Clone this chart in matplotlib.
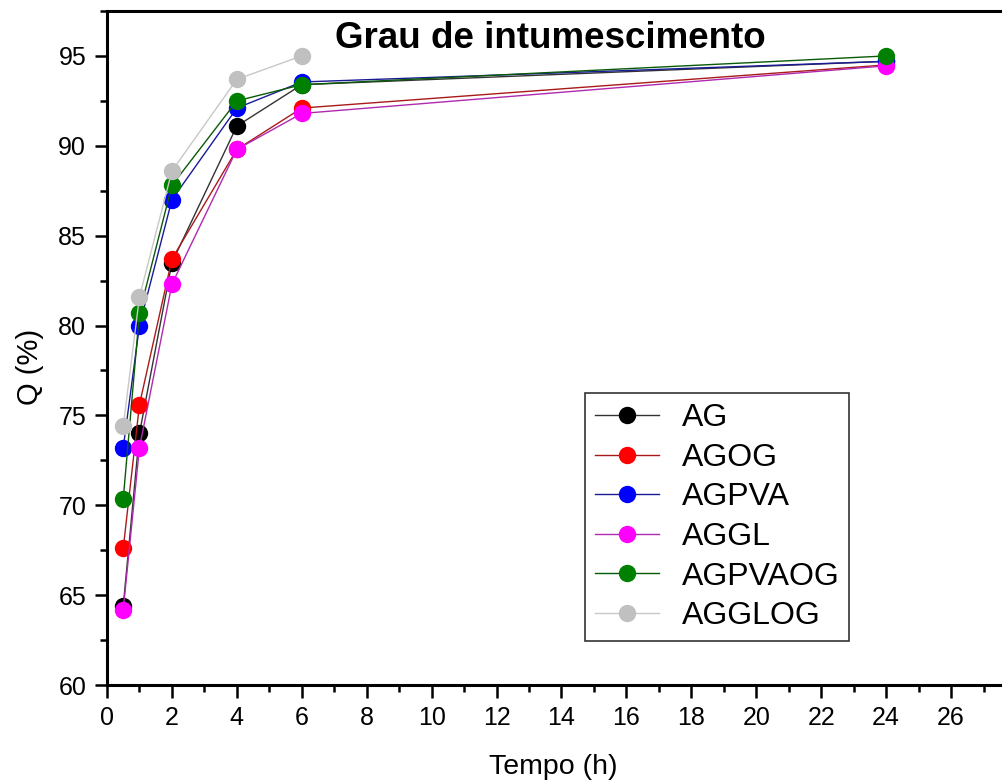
import matplotlib
matplotlib.use("Agg")
import matplotlib.pyplot as plt
from matplotlib.ticker import MultipleLocator, FixedLocator

plt.rcParams['font.family'] = ['Liberation Sans', 'DejaVu Sans']

tempo = [0.5, 1, 2, 4, 6, 24]
tempo_agglog = [0.5, 1, 2, 4, 6]

AG = [64.4, 74.0, 83.5, 91.1, 93.4, 94.7]
AGOG = [67.6, 75.6, 83.7, 89.8, 92.1, 94.5]
AGPVA = [73.2, 80.0, 87.0, 92.1, 93.55, 94.7]
AGGL = [64.2, 73.2, 82.3, 89.8, 91.8, 94.45]
AGPVAOG = [70.35, 80.7, 87.8, 92.5, 93.4, 95.0]
AGGLOG = [74.4, 81.6, 88.6, 93.7, 95.0]

x_major_ticks = [0, 2, 4, 6, 8, 10, 12, 14, 16, 18, 20, 22, 24, 26]

series = [
    ("AG", tempo, AG, "#000000", "#333333"),
    ("AGOG", tempo, AGOG, "#ff0000", "#aa1a1a"),
    ("AGPVA", tempo, AGPVA, "#0000ff", "#1a1a99"),
    ("AGGL", tempo, AGGL, "#ff00ff", "#b02ab0"),
    ("AGPVAOG", tempo, AGPVAOG, "#008000", "#0a5a0a"),
    ("AGGLOG", tempo_agglog, AGGLOG, "#c0c0c0", "#c8c8c8"),
]

fig = plt.figure(figsize=(10.03, 7.83), dpi=100)
ax_left, ax_right, ax_top, ax_bottom = 107, 1016, 11, 685
ax = fig.add_axes([ax_left/1003, 1-ax_bottom/783, (ax_right-ax_left)/1003,
                   (ax_bottom-ax_top)/783])

for name, x, y, c, lc in series:
    ax.plot(x, y, color=lc, lw=1.0, marker='o', markersize=11.5,
            markerfacecolor=c, markeredgecolor=c, label=name, clip_on=False)

ax.set_xlim(0, 28)
ax.set_ylim(60, 97.5)
ax.xaxis.set_major_locator(FixedLocator(x_major_ticks))
ax.xaxis.set_minor_locator(MultipleLocator(1))
ax.yaxis.set_major_locator(MultipleLocator(5))
ax.yaxis.set_minor_locator(MultipleLocator(2.5))
ax.tick_params(which='major', direction='out', length=9, width=1.8, labelsize=18, pad=6)
ax.tick_params(which='minor', direction='out', length=5, width=1.8)
ax.tick_params(top=False, right=False)
for s in ax.spines.values():
    s.set_linewidth(2.2)

ax.set_xlabel("Tempo (h)", fontsize=20.5)
ax.xaxis.set_label_coords((553-ax_left)/(ax_right-ax_left), (ax_bottom-754)/(ax_bottom-ax_top))
ax.set_ylabel("Q (%)", fontsize=21)
ax.yaxis.set_label_coords(-(ax_left-30)/(ax_right-ax_left), (ax_bottom-367)/(ax_bottom-ax_top))
ax.yaxis.label.set_va('center')
fig.text(550/1003, 1-48/783, "Grau de intumescimento", fontsize=26.5,
         fontweight='bold', ha='center', va='baseline')

leg = ax.legend(loc='upper left', bbox_to_anchor=(585/1003, 1-393/783),
                bbox_transform=fig.transFigure, borderaxespad=0,
                fontsize=23, handlelength=2.0, labelspacing=0.3,
                handletextpad=0.7, borderpad=0.32, fancybox=False,
                framealpha=1, edgecolor='#333333')
leg.get_frame().set_linewidth(1.2)

fig.savefig("out.png", dpi=100)
